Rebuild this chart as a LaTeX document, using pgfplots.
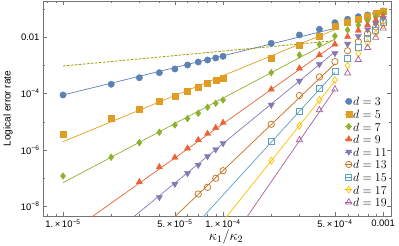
\documentclass[border=0pt]{standalone}
\usepackage{fontspec}
\setmainfont{Liberation Sans}
\usepackage{pgfplots}
\pgfplotsset{compat=1.18}
\usepackage{pgfplotstable}

\definecolor{c1}{HTML}{5E81B5}
\definecolor{c2}{HTML}{E19C24}
\definecolor{c3}{HTML}{8FB032}
\definecolor{c4}{HTML}{EB6235}
\definecolor{c5}{HTML}{8778B3}
\definecolor{c6}{HTML}{C56E1A}
\definecolor{c7}{HTML}{5D9EC7}
\definecolor{c8}{HTML}{FFBF00}
\definecolor{c9}{HTML}{A5609D}
\definecolor{c10}{HTML}{9A9C00}

\pgfplotstableread{
x y
1e-5 8.85e-5
2e-5 2.12e-4
3e-5 3.62e-4
4e-5 5.45e-4
5e-5 7.37e-4
6e-5 1.02e-3
7e-5 1.30e-3
8e-5 1.53e-3
9e-5 1.81e-3
1e-4 2.07e-3
2e-4 5.98e-3
3e-4 0.0118
4e-4 0.0187
5e-4 0.0321
6e-4 0.0424
7e-4 0.0524
8e-4 0.0601
9e-4 0.069
1e-3 0.0832
}\dthree
\pgfplotstableread{
x y
1e-5 3.60e-6
2e-5 1.32e-5
3e-5 2.76e-5
4e-5 5.13e-5
5e-5 7.71e-5
6e-5 1.16e-4
7e-5 1.66e-4
8e-5 2.30e-4
9e-5 3.01e-4
1e-4 3.62e-4
2e-4 1.76e-3
3e-4 5.21e-3
4e-4 0.0103
5e-4 0.0245
6e-4 0.0334
7e-4 0.0434
8e-4 0.055
9e-4 0.0668
1e-3 0.080
}\dfive
\pgfplotstableread{
x y
1e-5 1.20e-7
2e-5 5.52e-7
3e-5 1.81e-6
4e-5 4.24e-6
5e-5 7.67e-6
6e-5 1.30e-5
7e-5 1.99e-5
8e-5 3.25e-5
9e-5 4.50e-5
1e-4 5.89e-5
2e-4 5.45e-4
3e-4 2.31e-3
4e-4 5.52e-3
5e-4 0.0108
6e-4 0.0177
7e-4 0.0264
8e-4 0.0378
9e-4 0.0511
1e-3 0.0679
}\dseven
\pgfplotstableread{
x y
3e-5 7.36e-8
4e-5 2.50e-7
5e-5 5.43e-7
6e-5 1.15e-6
7e-5 2.26e-6
8e-5 3.78e-6
9e-5 6.11e-6
1e-4 9.25e-6
2e-4 1.41e-4
3e-4 7.80e-4
4e-4 2.31e-3
5e-4 5.52e-3
6e-4 0.0102
7e-4 0.0170
8e-4 0.0266
9e-4 0.0394
1e-3 0.0553
}\dnine
\pgfplotstableread{
x y
4e-5 2.12e-8
5e-5 6.25e-8
6e-5 1.50e-7
7e-5 2.94e-7
8e-5 5.98e-7
9e-5 1.04e-6
1e-4 1.73e-6
2e-4 3.92e-5
3e-4 2.77e-4
4e-4 1.08e-3
5e-4 2.65e-3
6e-4 5.65e-3
7e-4 0.0106
8e-4 0.0184
9e-4 0.0296
1e-3 0.0459
}\deleven
\pgfplotstableread{
x y
7e-5 2.77e-8
8e-5 4.79e-8
9e-5 9.96e-8
1e-4 1.85e-7
2e-4 8.13e-6
3e-4 8.49e-5
4e-4 3.84e-4
5e-4 1.34e-3
6e-4 3.24e-3
7e-4 6.76e-3
8e-4 0.0130
9e-4 0.0228
1e-3 0.0378
}\dthirteen
\pgfplotstableread{
x y
2e-4 1.97e-6
3e-4 2.36e-5
4e-4 1.50e-4
5e-4 6.26e-4
6e-4 1.78e-3
7e-4 4.21e-3
8e-4 9.14e-3
9e-4 0.0175
1e-3 0.0321
}\dfifteen
\pgfplotstableread{
x y
2e-4 4.18e-7
3e-4 7.24e-6
4e-4 5.89e-5
5e-4 3.01e-4
6e-4 9.72e-4
7e-4 2.61e-3
8e-4 6.23e-3
9e-4 0.0131
1e-3 0.0255
}\dseventeen
\pgfplotstableread{
x y
3e-4 2.26e-6
4e-4 2.61e-5
5e-4 1.41e-4
6e-4 5.23e-4
7e-4 1.57e-3
8e-4 4.18e-3
9e-4 9.53e-3
1e-3 0.0203
}\dnineteen

\begin{document}
\begin{tikzpicture}
\begin{axis}[
  scale only axis, width=348bp, height=215bp,
  xmode=log, ymode=log,
  xmin=7.5e-6, xmax=1.12e-3, ymin=4.6e-9, ymax=0.188,
  xtick={1e-5,5e-5,1e-4,5e-4,1e-3},
  xticklabels={1.\,×\,10\textsuperscript{−5},5.\,×\,10\textsuperscript{−5},1.\,×\,10\textsuperscript{−4},5.\,×\,10\textsuperscript{−4},0.001},
  minor xtick={8e-6,9e-6,2e-5,3e-5,4e-5,6e-5,7e-5,8e-5,9e-5,2e-4,3e-4,4e-4,6e-4,7e-4,8e-4,9e-4},
  ytick={1e-8,1e-6,1e-4,1e-2},
  yticklabels={10\textsuperscript{−8},10\textsuperscript{−6},10\textsuperscript{−4},0.01},
  minor ytick={1e-7,1e-5,1e-3,1e-1},
  tick label style={font=\fontsize{9.5}{10}\selectfont, black},
  axis line style={black!55},
  tick style={black!55},
  major tick length=4bp, minor tick length=2.3bp,
  ylabel={Logical error rate},
  ylabel style={font=\fontsize{10}{11}\selectfont, at={(rel axis cs:-0.1006,0.5)}, anchor=center},
  xlabel={$\kappa_1/\kappa_2$},
  xlabel style={font=\fontsize{14}{15}\selectfont, at={(rel axis cs:0.526,0)}, anchor=center, yshift=-21bp},
  legend style={at={(rel axis cs:0.99,0.04)}, anchor=south east, draw=none, fill=none, inner sep=0pt,
    font=\fontsize{13}{13}\selectfont, row sep=2.6bp,
    nodes={inner sep=0.6bp, text height=8.8bp, text depth=0bp}},
  legend cell align=left,
  legend image code/.code={\path (-4.2bp,0bp) -- (3.6bp,0bp); \draw[#1] plot coordinates {(0bp,0bp)};},
]
% fitted lines
\addplot[c1, line width=0.7bp, forget plot] coordinates {(1e-5,8.85e-5) (5e-4,0.0203)};
\addplot[c2, line width=0.7bp, forget plot] coordinates {(1e-5,1.97e-6) (5e-4,0.0183)};
\addplot[c3, line width=0.7bp, forget plot] coordinates {(1e-5,6.95e-8) (5e-4,8.5e-3)};
\addplot[c4, line width=0.7bp, forget plot] coordinates {(1e-5,8.05e-10) (5e-4,5.52e-3)};
\addplot[c5, line width=0.7bp, forget plot] coordinates {(1e-5,3.82e-11) (5e-4,2.99e-3)};
\addplot[c6, line width=0.7bp, forget plot] coordinates {(1e-5,7.16e-13) (5e-4,1.135e-3)};
\addplot[c7, line width=0.7bp, forget plot] coordinates {(5e-5,3.45e-10) (5e-4,5.58e-4)};
\addplot[c8, line width=0.7bp, forget plot] coordinates {(1e-4,3.04e-9) (5e-4,2.75e-4)};
\addplot[c9, line width=0.7bp, forget plot] coordinates {(1.2e-4,1.125e-9) (5e-4,1.41e-4)};
\addplot[c10, line width=0.8bp, dash pattern=on 2.6bp off 1.4bp, forget plot] coordinates {(1e-5,9.4e-4) (5e-4,7.4e-3)};
% data
\addplot[only marks, mark=*, mark size=3.2bp, c1] table {\dthree};
\addlegendentry{$d=3$}
\addplot[only marks, mark=square*, mark size=3bp, c2] table {\dfive};
\addlegendentry{$d=5$}
\addplot[only marks, mark=diamond*, mark size=3.4bp, c3] table {\dseven};
\addlegendentry{$d=7$}
\addplot[only marks, mark=triangle*, mark size=3.6bp, c4] table {\dnine};
\addlegendentry{$d=9$}
\addplot[only marks, mark=triangle*, mark size=3.6bp, c5, mark options={rotate=180}] table {\deleven};
\addlegendentry{$d=11$}
\addplot[only marks, mark=o, mark size=3.2bp, c6, mark options={line width=0.7bp}] table {\dthirteen};
\addlegendentry{$d=13$}
\addplot[only marks, mark=square, mark size=3bp, c7, mark options={line width=0.7bp}] table {\dfifteen};
\addlegendentry{$d=15$}
\addplot[only marks, mark=diamond, mark size=3.4bp, c8, mark options={line width=0.7bp}] table {\dseventeen};
\addlegendentry{$d=17$}
\addplot[only marks, mark=triangle, mark size=3.6bp, c9, mark options={line width=0.7bp}] table {\dnineteen};
\addlegendentry{$d=19$}
\end{axis}
\pgfresetboundingbox
\path[use as bounding box] ([shift={(-43bp,-30bp)}]current axis.south west) rectangle ([shift={(8bp,1bp)}]current axis.north east);
\end{tikzpicture}
\end{document}
